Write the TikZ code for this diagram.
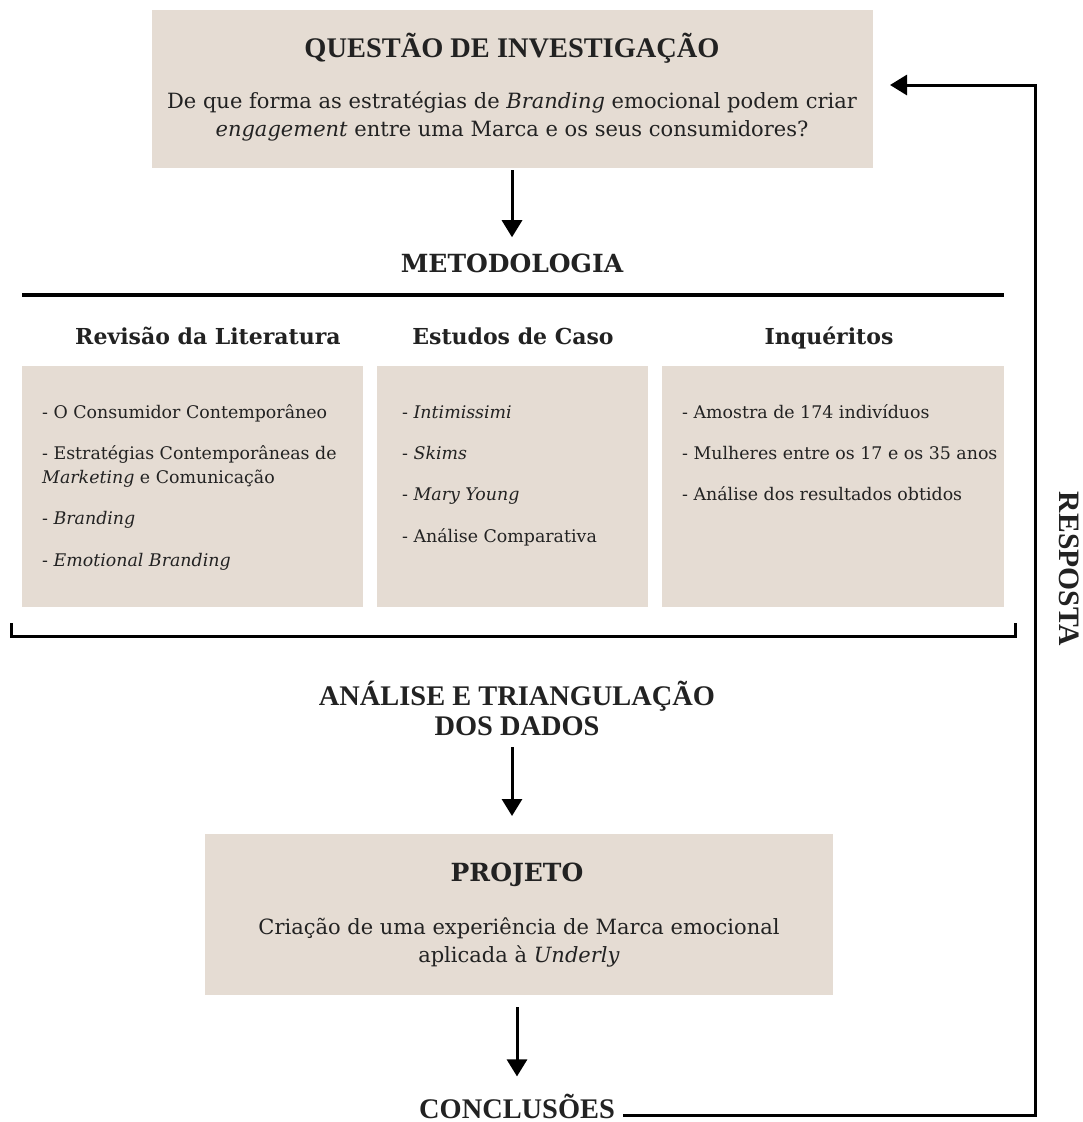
\documentclass[tikz,border=0pt]{standalone}
\usepackage{fontspec}
\setmainfont{DejaVu Serif}
\newfontfamily\timesfont{Liberation Serif}
\usetikzlibrary{arrows.meta,positioning}
\definecolor{bege}{HTML}{E5DCD3}
\definecolor{tinta}{HTML}{222222}

\begin{document}
\begin{tikzpicture}
%Esquema da metodologia
	[
	 %Styles
	 x=1pt, y=-1pt,
	 caixa/.style={rectangle,fill=bege,inner sep=0pt,anchor=north west},
	 titulo/.style={font=\timesfont\bfseries\fontsize{28.4}{30}\selectfont,text=tinta,inner sep=0pt,anchor=base},
	 titulo_b/.style={font=\bfseries\fontsize{25}{28}\selectfont,text=tinta,inner sep=0pt,anchor=base},
	 cabecalho/.style={font=\bfseries\fontsize{22}{24}\selectfont,text=tinta,inner sep=0pt,anchor=base},
	 corpo/.style={font=\fontsize{21}{28}\selectfont,text=tinta,inner sep=0pt,align=center,anchor=base},
	 item/.style={font=\fontsize{17.4}{24}\selectfont,text=tinta,inner sep=0pt,anchor=base west},
	 seta/.style={draw=black,line width=3pt,-{Triangle[width=20pt,length=17pt]}},
	 linha/.style={draw=black,line width=3pt}
	]
	\useasboundingbox (0,0) rectangle (1083,1122);

	%Questao de investigacao
	\node[caixa, minimum width=721pt, minimum height=158pt] (qbox) at (152,10) {};
	\node[titulo] (qtitulo) at (512,57) {QUESTÃO DE INVESTIGAÇÃO};
	\node[corpo] (qtexto) at (512,136) {De que forma as estratégias de \textit{Branding} emocional podem criar\\
		\textit{engagement} entre uma Marca e os seus consumidores?};

	%Metodologia
	\node[titulo_b] (metod) at (512,272) {METODOLOGIA};
	\draw[linha, line width=4pt] (22,295) -- (1004,295);

	\node[cabecalho] (hlit) at (208,344) {Revisão da Literatura};
	\node[cabecalho] (hcaso) at (513,344) {Estudos de Caso};
	\node[cabecalho] (hinq) at (829,344) {Inquéritos};

	\node[caixa, minimum width=341pt, minimum height=241pt] (blit) at (22,366) {};
	\node[caixa, minimum width=271pt, minimum height=241pt] (bcaso) at (377,366) {};
	\node[caixa, minimum width=342pt, minimum height=241pt] (binq) at (662,366) {};

	%Itens
	\foreach \txt/\yy [count=\i] in {- O Consumidor Contemporâneo/418,
		- Estratégias Contemporâneas de/459,
		\textit{Marketing} e Comunicação/483,
		- \textit{Branding}/524,
		- \textit{Emotional Branding}/566}
		\node[item] (lit\i) at (42,\yy) {\txt};
	\foreach \txt/\yy [count=\i] in {- \textit{Intimissimi}/418,
		- \textit{Skims}/459,
		- \textit{Mary Young}/500,
		- Análise Comparativa/542}
		\node[item] (caso\i) at (402,\yy) {\txt};
	\foreach \txt/\yy [count=\i] in {- Amostra de 174 indivíduos/418,
		- Mulheres entre os 17 e os 35 anos/459,
		- Análise dos resultados obtidos/500}
		\node[item] (inq\i) at (682,\yy) {\txt};

	\coordinate (bra_e) at (11,623);
	\coordinate (bra_d) at (1015,623);
	\draw[linha] (bra_e) -- ++(0,13) -| (bra_d);

	%Analise
	\node[titulo] (analise) at (517,705) {ANÁLISE E TRIANGULAÇÃO};
	\node[titulo] (dados) at (517,735) {DOS DADOS};

	%Projeto
	\node[caixa, minimum width=628pt, minimum height=161pt] (pbox) at (205,834) {};
	\node[titulo_b] (ptitulo) at (517,881) {PROJETO};
	\node[corpo] (ptexto) at (519,962) {Criação de uma experiência de Marca emocional\\
		aplicada à \textit{Underly}};

	%Conclusoes
	\node[titulo] (conc) at (517,1118) {CONCLUSÕES};
	\node[titulo, font=\timesfont\bfseries\fontsize{29.6}{30}\selectfont, rotate=-90, anchor=center] (resp) at (1069,569) {RESPOSTA};

	\coordinate (lado) at (1035,0);
	\coordinate (qalvo) at (890,85);

	%Edges
	\draw[seta, shorten <=2pt, shorten >=16pt] (qbox.south -| metod) -- (metod.north);
	\draw[seta, shorten <=12pt, shorten >=18pt] (dados.south -| metod) -- (metod |- pbox.north);
	\draw[seta, shorten <=12pt, shorten >=17pt] (pbox.south -| conc) -- (conc.north);
	\draw[seta] ([xshift=8pt]conc.mid east) -- (conc.mid east -| lado) |- (qalvo);
\end{tikzpicture}
\end{document}
